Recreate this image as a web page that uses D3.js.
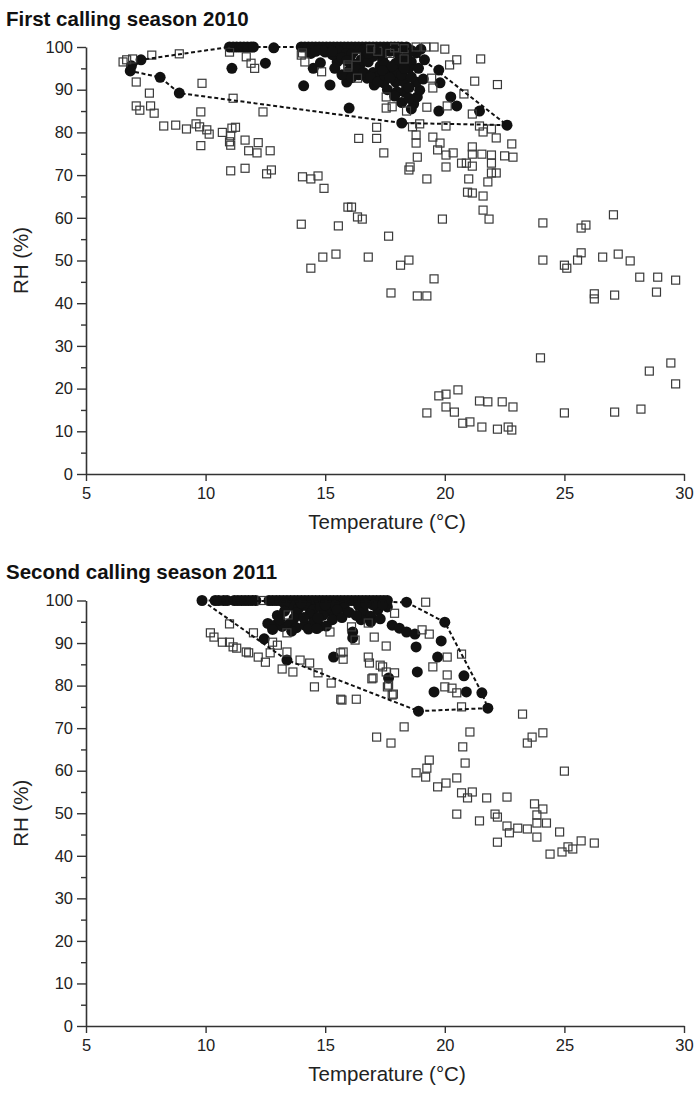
<!DOCTYPE html>
<html><head><meta charset="utf-8">
<script src="https://cdn.jsdelivr.net/npm/d3@7"></script>
<style>body{margin:0;background:#fff}svg{display:block}</style>
</head><body>
<svg id="c" width="696" height="1096"></svg>
<script>
// ---------- data ----------
const xTicks = [5, 10, 15, 20, 25, 30];
const yTicks = [0, 10, 20, 30, 40, 50, 60, 70, 80, 90, 100];
const yMinor = [5, 15, 25, 35, 45, 55, 65, 75, 85, 95];
const titles = ["First calling season 2010", "Second calling season 2011"];
const xLabel = "Temperature (°C)";
const yLabel = "RH (%)";

// 2010: open squares (non-calling), filled circles (calling), dashed hull
const topOpen = [
[6.55,96.5],[6.7,97],[6.95,97.2],[7.1,91.8],[7.65,89.2],[7.1,86.2],[7.25,85.2],[7.7,86.2],[7.85,84.5],[7.75,98.1],[8.9,98.4],[8.25,81.5],[8.75,81.7],[9.2,80.8],[9.6,82],[9.75,81.3],[9.85,91.5],[9.8,84.8],[9.8,76.9],[10.05,80.6],[10.15,79.6],[10.7,80],[11.1,81],[11.25,81.2],[11.05,79.2],[11.0,77.8],[11.05,77],[11.65,78.2],[11.8,75.7],[12.2,77.6],[12.15,75.2],[12.7,75.7],[11.05,71],[11.65,71.6],[12.55,70.3],[12.75,71.2],[11.15,88],[12.4,84.8],[11,98.8],[11.7,97.7],[11.9,96.2],[12.05,95],
[14.05,69.6],[14.4,69.1],[14.7,69.8],[14.95,66.9],[14.0,58.5],[15.55,58.1],[15.95,62.5],[14.4,48.2],[14.9,50.8],[15.45,51.5],
[14.0,98.1],[14.15,96.5],[14.85,94.2],[15.95,95.8],[14.05,98.6],[15.95,95.3],[16.35,92.7],
[18.8,100],[19.2,100],[19.55,100],[20,99.5],[20.5,97],[21.5,97.2],[20.2,95.8],[21.25,92],[22.2,91.2],[20.8,89],[17.55,88.3],[17.55,85.7],[17.8,86],[18.4,85],[19.25,85.9],[20.1,86.2],[21.15,84.3],[17.15,81.2],[16.4,78.6],[17.15,78.6],[17.45,75.2],[18.65,81.3],[18.95,82],[18.8,79.4],[18.8,77.5],[20.05,81.5],[21.45,81.5],[21.6,80.1],[21.95,80.8],[22.15,78.7],[22.8,77.3],[22.5,74.5],[22.85,74.2],[19.5,78.9],[19.8,77.5],[19.7,75.9],[20.05,74.7],[20.35,75.2],[18.85,74.2],[18.55,71.9],[18.5,71.2],[19.25,69.1],[20.05,71.9],[20.7,72.8],[20.9,72.8],[21.15,74.9],[21.15,72.1],[21.15,76.6],[21.55,74.9],[21.95,74.7],[21.95,72.8],[21.95,70.5],[22.15,70.5],[21.8,68.4],[21.0,69.1],[20.95,66],[21.15,65.8],[21.6,65.1],[21.6,61.8],[21.85,59.7],[19.9,59.7],[16.1,62.5],[16.35,60.2],[16.55,59.7],[17.65,55.7],[24.1,58.8],[25.7,57.6],[25.9,58.3],[27.05,60.7],
[19.45,92.7],[19.5,90.4],[18.3,97.2],[17.2,99],[17.7,98.5],[16.3,97.6],[16.9,99.6],[17.9,99.8],[18.3,99.6],
[16.8,50.8],[18.15,48.9],[18.5,50.1],[19.55,45.7],[17.75,42.4],[18.85,41.7],[19.25,41.7],[24.1,50.1],[25,48.9],[25.1,48.2],[25.55,50.1],[25.7,51.8],[26.6,50.8],[27.25,51.5],[27.75,49.9],[28.15,46.1],[28.9,46.1],[29.65,45.4],[26.25,42.2],[26.25,41],[27.1,41.9],[28.85,42.6],
[24.0,27.2],[29.45,26],[28.55,24.1],[29.65,21.1],[19.25,14.3],[19.75,18.3],[20.05,18.7],[20.55,19.7],[20.05,15.7],[20.4,14.5],[20.75,11.9],[21.05,12.2],[21.45,17.1],[21.8,16.9],[22.4,16.9],[22.85,15.7],[21.55,11],[22.2,10.5],[22.65,11],[22.8,10.3],[25,14.3],[27.1,14.5],[28.2,15.2]
];
const topFilled = [
[6.9,95.6],[6.85,94.4],[7.3,97],[8.1,92.9],[8.9,89.2],[11.1,95],[12.5,96.2],[12.85,99.8],
[11.0,100],[11.15,100],[11.3,100],[11.45,100],[11.6,100],[11.75,100],[11.9,100],[12.0,100],
[14.0,100],[14.15,100],[14.3,100],[14.45,100],[14.6,100],[14.75,100],[14.9,100],[15.05,100],[15.2,100],[15.35,100],[15.5,100],[15.65,100],[15.8,100],[15.95,100],[16.1,100],[16.25,100],[16.4,100],[16.55,100],[16.7,100],[16.85,100],[17.0,100],[17.15,100],[17.3,100],[17.45,100],[17.6,100],[17.75,100],[17.9,100],[18.05,100],[18.2,100],[18.4,100],
[14.1,90.9],[15.2,91.1],[15.9,91.8],[14.5,95],[14.8,96.3],[15.5,96.5],[16.0,85.7],[18.2,82.2],[22.6,81.7],[21.45,85],[20.5,86.2],[19.75,85],[20.25,88.3],[19.8,91.6],[19.75,94.6],[18.2,87],[18.7,86.7],[18.85,88.3],[18.95,89.9],[18.8,91.8],[17.95,91.8],[19.15,97],[18.6,96.5],[18.1,95.3],[16.45,95.8],[16.0,97.4],[16.7,98.1],[17.4,97],[17.95,96.2],[17.8,92.7],[18.3,91.8],[16.75,92.7],[17.05,91.1],[17.45,91.6],
[15.0,98.8],[15.3,98.2],[15.6,99],[15.9,98.5],[16.2,99],[16.5,97],[16.8,96.5],[17.1,98.7],[17.3,95.5],[17.6,94.5],[17.9,94],[18.2,93.5],[17.0,94],[16.4,93.5],[18.4,97.8],[18.0,98.8],[17.7,99],[16.6,99.3],[17.2,93],[18.5,95],[18.3,89.5],[17.6,90],[18.5,90.5],[16.2,96],[15.7,97.5],[14.4,98.5],[14.9,99.2],[16.0,94.5],[17.5,96],[18.8,98.6],[17.0,97.8],
[15.4,95],[15.7,93.5],[16.1,92.8],[16.3,94.8],[16.6,94],[16.9,93],[17.2,91.8],[17.5,93.3],[17.8,95.5],[18.1,97],[18.4,96.2],[18.6,93],[18.9,95],[19.1,92.5],[18.5,88],[18.0,89.5],[17.9,88.5],[18.6,85.5],[17.4,94.5],[16.8,98.5],[16.1,98.3],[15.3,99],[14.6,99],[15.9,96.8],[17.35,98.8],[18.6,99.2],[19.0,99.5],[18.3,95],[17.7,92.8]
];
const topHull = [[6.85,94.4],[7.3,97],[11.0,100],[18.4,100],[22.6,81.7],[18.2,82.2],[8.9,89.2],[8.1,92.9],[6.85,94.4]];

// 2011
const bottomOpen = [
[12.35,100],[11.0,94.5],[10.2,92.4],[10.35,91.4],[10.7,90.2],[11.0,90.2],[11.15,89.1],[11.3,88.8],[11.7,87.9],[11.8,87.7],[12.2,86.7],[12.5,85.5],[12.0,92.4],[12.7,87.7],[12.8,90.2],[13.0,89.5],[13.4,87.9],[13.2,83.9],[13.65,83.2],[13.95,86],[14.35,85.3],[14.7,83],[14.55,79.7],[13.45,96.6],[13.4,92.4],[15.25,80.6],[15.65,76.8],[16.3,76.8],[15.75,86.2],[16.1,93.8],[15.75,87.9],[15.2,92.6],[16.8,86.7],[16.85,85.3],[17.0,81.8],[17.4,84.4],[17.55,83.2],[17.9,83],[17.65,80.1],[17.8,77.8],[17.05,91.4],[17.55,89.3],[17.9,97],[19.2,99.6],[19.05,93.1],[19.35,92.1],[20.1,86.7],[20.7,87.4],[19.5,84.4],[20.1,82.5],[20.0,79.7],[20.3,79.4],[20.5,78.3],[20.7,75],[18.3,70.3],[17.15,67.9],[17.75,66.5],[21.05,69.1],[20.75,65.6],[23.25,73.3],[23.65,67.9],[24.1,68.9],[23.45,66.5],[20.85,61.8],[19.35,62.5],[19.25,60.6],[18.8,59.5],[19.2,58.5],[20.5,58.3],[20.05,57.1],[19.7,56.2],[25.0,59.9],[20.7,54.8],[21.15,55],[20.95,53.6],[21.75,53.6],[22.6,53.8],[20.5,49.8],[21.45,48.2],[22.1,49.8],[22.2,49.1],[22.6,47],[22.7,45.4],[22.2,43.2],[23.05,46.5],[23.45,46.3],[23.75,52.2],[24.1,51],[23.85,49.6],[23.85,47.7],[24.25,47.7],[23.85,44.4],[24.8,45.6],[24.4,40.4],[24.9,40.9],[25.15,42.1],[25.35,41.6],[25.7,43.5],[26.25,43],[16.25,90.7],[16.8,94.7],[17.3,84.8],[16.95,81.6],[17.6,79.7],[17.85,78],[15.7,76.6],[15.65,87.7]
];
const bottomFilled = [
[9.85,100],[10.4,100],[10.55,100],[10.75,100],[10.9,100],[11.2,100],[11.35,100],[11.5,100],[11.65,100],[11.8,100],[11.95,100],[12.1,100],[12.65,100],[12.8,100],[12.95,100],[13.1,100],[13.25,100],[13.4,100],[13.55,100],[13.7,100],[13.85,100],[14.0,100],[14.15,100],[14.3,100],[14.45,100],[14.6,100],[14.75,100],[14.9,100],[15.05,100],[15.2,100],[15.35,100],[15.5,100],[15.65,100],[15.8,100],[15.95,100],[16.1,100],[16.25,100],[16.4,100],[16.55,100],[16.7,100],[16.85,100],[17.0,100],[17.15,100],[17.3,100],[17.45,100],[17.6,100],[18.4,99.6],
[13.6,98.8],[13.9,98.2],[14.2,98.8],[14.5,97.8],[14.8,98.5],[15.1,97.5],[15.4,98.9],[13.8,97.2],[14.35,96.8],[14.9,96.5],[15.4,96.6],[15.8,98.3],[16.4,98.8],[16.6,97.3],[16.9,96.3],[17.2,97.8],[16.5,95.5],[16.9,95],[17.3,95.7],[17.6,98.5],[17.0,99],[13.3,99.3],[14.0,99.4],
[12.6,94.6],[12.9,94.2],[13.2,93.9],[13.5,94.5],[13.8,93.6],[14.15,94.2],[14.5,94.8],[14.8,94],[15.05,94],[15.3,95.5],[15.5,97.8],
[13.0,96.5],[13.3,97.5],[13.7,95.8],[14.1,96],[14.7,96],[15.0,99],[15.7,96],[16.0,97.2],[16.3,96.5],[16.7,99.2],[17.4,99],[13.1,95.5],[12.8,93.2],[14.3,93.3],[14.65,93.4],[13.6,92.8],
[17.8,94.2],[18.1,93.5],[18.4,92.6],[18.75,92.1],[18.8,89.1],[20.0,94.9],[19.85,90.5],[19.7,86.7],[18.85,83.2],[19.55,78.5],[18.9,74],[20.8,82.3],[20.9,78.5],[21.55,78.3],[21.8,74.7],[15.35,86.7],[17.65,81.8],[16.15,92.6],[16.15,91.2],[12.45,91],[13.4,86]
];
const bottomHull = [[9.85,100],[18.4,99.6],[20.0,94.9],[21.55,78.3],[21.8,74.7],[18.9,74],[13.4,86],[9.85,100]];

// ---------- drawing ----------
const svg = d3.select("#c");
const font = "'Liberation Sans', Arial, sans-serif";

function panel(cfg, title, open, filled, hull) {
  const x = d3.scaleLinear().domain([5, 30]).range([86, 684]);
  const y = d3.scaleLinear().domain([0, 100]).range([cfg.y0, cfg.y100]);
  const g = svg.append("g");

  g.append("text").attr("x", 6).attr("y", cfg.titleY)
    .attr("font-family", font).attr("font-weight", "bold").attr("font-size", 20.5)
    .attr("fill", "#111").text(title);

  // axes
  const ax = g.append("g").attr("transform", `translate(0,${cfg.y0})`)
    .call(d3.axisBottom(x).tickValues(xTicks).tickSize(7).tickSizeOuter(0).tickPadding(6));
  const ay = g.append("g").attr("transform", "translate(86,0)")
    .call(d3.axisLeft(y).tickValues(yTicks).tickSize(9).tickSizeOuter(0).tickPadding(4));
  const aym = g.append("g").attr("transform", "translate(86,0)")
    .call(d3.axisLeft(y).tickValues(yMinor).tickSize(5).tickSizeOuter(0).tickFormat(""));
  [ax, ay, aym].forEach(a => {
    a.selectAll("path").attr("stroke", "#333").attr("stroke-width", 1.6);
    a.selectAll("line").attr("stroke", "#333").attr("stroke-width", 1.4);
    a.selectAll("text").attr("font-family", font).attr("font-size", 16.5).attr("fill", "#222");
  });
  aym.select("path").remove();

  g.append("text").attr("x", 387).attr("y", cfg.y0 + 55)
    .attr("text-anchor", "middle").attr("font-family", font).attr("font-size", 20.5)
    .attr("fill", "#222").text(xLabel);
  g.append("text").attr("transform", `translate(28,${(cfg.y0 + cfg.y100) / 2}) rotate(-90)`)
    .attr("text-anchor", "middle").attr("font-family", font).attr("font-size", 20.5)
    .attr("fill", "#222").text(yLabel);

  // filled circles
  g.append("g").selectAll("circle").data(filled).join("circle")
    .attr("cx", d => x(d[0])).attr("cy", d => y(d[1])).attr("r", 5.5)
    .attr("fill", "#111");
  // open squares
  const s = 8;
  g.append("g").selectAll("rect").data(open).join("rect")
    .attr("x", d => x(d[0]) - s / 2).attr("y", d => y(d[1]) - s / 2)
    .attr("width", s).attr("height", s)
    .attr("fill", "none").attr("stroke", "#3a3a3a").attr("stroke-width", 1.2);
  // hull
  g.append("path").datum(hull)
    .attr("d", d3.line().x(d => x(d[0])).y(d => y(d[1])))
    .attr("fill", "none").attr("stroke", "#111").attr("stroke-width", 2)
    .attr("stroke-dasharray", "4,2.6");
}

panel({ y0: 474, y100: 47, titleY: 26 }, titles[0], topOpen, topFilled, topHull);
panel({ y0: 1026, y100: 600.5, titleY: 579 }, titles[1], bottomOpen, bottomFilled, bottomHull);
</script>
</body></html>
